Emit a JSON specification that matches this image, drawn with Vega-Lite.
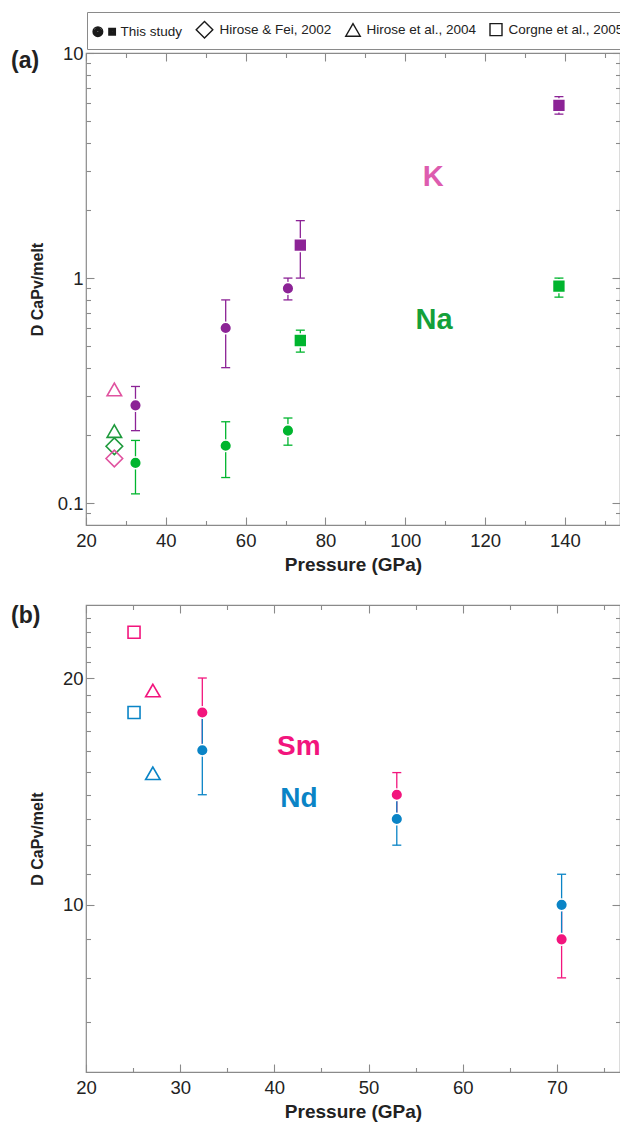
{
  "$schema": "https://vega.github.io/schema/vega-lite/v6.json",
  "background": "white",
  "padding": {"top": 11, "left": 10, "right": 0, "bottom": 0},
  "spacing": 28,
  "config": {
    "font": "Liberation Sans",
    "view": {"stroke": "#8a8a8a", "strokeWidth": 1.2},
    "axis": {
      "domain": false, "grid": false,
      "labelFont": "Liberation Sans", "labelFontSize": 18.5, "labelColor": "#222",
      "tickColor": "#8a8a8a", "tickWidth": 1.1,
      "titleFont": "Liberation Sans", "titleFontWeight": "bold", "titleColor": "#222",
      "labelFlush": false, "labelOverlap": false
    },
    "legend": {
      "labelFont": "Liberation Sans", "labelFontSize": 13.5, "labelColor": "#222",
      "strokeColor": "#8a8a8a", "fillColor": "white", "padding": 8,
      "symbolStrokeWidth": 1.4, "symbolStrokeColor": "#1a1a1a", "columnPadding": 10, "labelOffset": 5.5
    }
  },
  "datasets": {
    "pts": [
      {"panel": "a", "el": "K", "src": "This study", "exp": "circle", "P": 32.4, "D": 0.272, "lo": 0.21, "hi": 0.33},
      {"panel": "a", "el": "K", "src": "This study", "exp": "circle", "P": 55, "D": 0.6, "lo": 0.4, "hi": 0.8},
      {"panel": "a", "el": "K", "src": "This study", "exp": "circle", "P": 70.6, "D": 0.9, "lo": 0.8, "hi": 1.0},
      {"panel": "a", "el": "K", "src": "This study", "exp": "square", "P": 73.7, "D": 1.4, "lo": 1.0, "hi": 1.8},
      {"panel": "a", "el": "K", "src": "This study", "exp": "square", "P": 138.5, "D": 5.85, "lo": 5.35, "hi": 6.4},
      {"panel": "a", "el": "Na", "src": "This study", "exp": "circle", "P": 32.4, "D": 0.151, "lo": 0.11, "hi": 0.19},
      {"panel": "a", "el": "Na", "src": "This study", "exp": "circle", "P": 55, "D": 0.18, "lo": 0.13, "hi": 0.23},
      {"panel": "a", "el": "Na", "src": "This study", "exp": "circle", "P": 70.6, "D": 0.21, "lo": 0.181, "hi": 0.239},
      {"panel": "a", "el": "Na", "src": "This study", "exp": "square", "P": 73.7, "D": 0.528, "lo": 0.469, "hi": 0.587},
      {"panel": "a", "el": "Na", "src": "This study", "exp": "square", "P": 138.5, "D": 0.921, "lo": 0.823, "hi": 1.0},
      {"panel": "a", "el": "K", "src": "Hirose et al., 2004", "exp": "lit", "P": 27.1, "D": 0.32},
      {"panel": "a", "el": "Na", "src": "Hirose et al., 2004", "exp": "lit", "P": 27.1, "D": 0.209},
      {"panel": "a", "el": "Na", "src": "Hirose & Fei, 2002", "exp": "lit", "P": 27.1, "D": 0.179},
      {"panel": "a", "el": "K", "src": "Hirose & Fei, 2002", "exp": "lit", "P": 27.1, "D": 0.158},
      {"panel": "b", "el": "Sm", "src": "This study", "exp": "circle", "P": 32.35, "D": 18.0, "lo": 16.0, "hi": 20.0},
      {"panel": "b", "el": "Sm", "src": "This study", "exp": "circle", "P": 53.0, "D": 14.0, "lo": 13.05, "hi": 14.98},
      {"panel": "b", "el": "Sm", "src": "This study", "exp": "circle", "P": 70.5, "D": 9.0, "lo": 8.0, "hi": 10.0},
      {"panel": "b", "el": "Nd", "src": "This study", "exp": "circle", "P": 32.35, "D": 16.04, "lo": 14.0, "hi": 18.0},
      {"panel": "b", "el": "Nd", "src": "This study", "exp": "circle", "P": 53.0, "D": 13.0, "lo": 12.0, "hi": 14.0},
      {"panel": "b", "el": "Nd", "src": "This study", "exp": "circle", "P": 70.5, "D": 10.0, "lo": 9.0, "hi": 10.98},
      {"panel": "b", "el": "Sm", "src": "Corgne et al., 2005", "exp": "lit", "P": 25.1, "D": 23.0},
      {"panel": "b", "el": "Nd", "src": "Corgne et al., 2005", "exp": "lit", "P": 25.1, "D": 18.0},
      {"panel": "b", "el": "Sm", "src": "Hirose et al., 2004", "exp": "lit", "P": 27.1, "D": 19.25},
      {"panel": "b", "el": "Nd", "src": "Hirose et al., 2004", "exp": "lit", "P": 27.1, "D": 14.95}
    ],
    "lbls": [
      {"panel": "a", "lbl": "K", "P": 107, "D": 2.81},
      {"panel": "a", "lbl": "Na", "P": 107.2, "D": 0.65},
      {"panel": "b", "lbl": "Sm", "P": 42.6, "D": 16.2},
      {"panel": "b", "lbl": "Nd", "P": 42.6, "D": 13.8}
    ]
  },
  "vconcat": [
    {
      "width": 534, "height": 472,
      "title": {"text": "(a)", "anchor": "start", "frame": "group", "orient": "top", "offset": 4, "dx": -75, "dy": 33, "fontSize": 23, "fontWeight": "bold", "font": "Liberation Sans", "color": "#222"},
      "layer": [
        {
          "data": {"name": "pts"},
          "transform": [{"filter": "datum.panel == 'a' && datum.src == 'This study'"}],
          "mark": {"type": "rule", "strokeWidth": 1.3},
          "encoding": {
            "x": {"field": "P", "type": "quantitative", "scale": {"domain": [20, 153.8], "nice": false, "zero": false},
              "axis": {"orient": "bottom", "values": [20,30,40,50,60,70,80,90,100,110,120,130,140,150], "format": "d",
                "labelExpr": "datum.value % 20 == 0 ? datum.label : ''",
                "tickSize": {"condition": {"test": "datum.value % 20 == 0", "value": -8}, "value": -4.5},
                "labelPadding": 14, "title": "Pressure (GPa)", "titleFontSize": 19, "titlePadding": 2}},
            "y": {"field": "lo", "type": "quantitative", "scale": {"type": "log", "domain": [0.08, 10], "nice": false},
              "axis": {"orient": "left", "values": [0.09,0.1,0.2,0.3,0.4,0.5,0.6,0.7,0.8,0.9,1,2,3,4,5,6,7,8,9,10],
                "labelExpr": "datum.value == 0.1 || datum.value == 1 || datum.value == 10 ? format(datum.value, '~g') : ''",
                "tickSize": {"condition": {"test": "datum.value == 0.1 || datum.value == 1 || datum.value == 10", "value": -8}, "value": -4.5},
                "labelPadding": 11, "title": "D CaPv/melt", "titleFontSize": 16, "titlePadding": 12}},
            "y2": {"field": "hi"},
            "color": {"field": "el", "type": "nominal", "scale": {"domain": ["K","Na","Sm","Nd"], "range": ["#8c2396","#00b52e","#f2157d","#0a84c6"]}, "legend": null}
          }
        },
        {
          "data": {"name": "pts"},
          "transform": [{"filter": "datum.panel == 'a' && datum.src == 'This study'"}],
          "mark": {"type": "tick", "orient": "horizontal", "size": 9, "thickness": 1.3, "opacity": 1},
          "encoding": {
            "x": {"field": "P", "type": "quantitative", "axis": null},
            "y": {"field": "lo", "type": "quantitative", "axis": null},
            "color": {"field": "el", "type": "nominal", "legend": null}
          }
        },
        {
          "data": {"name": "pts"},
          "transform": [{"filter": "datum.panel == 'a' && datum.src == 'This study'"}],
          "mark": {"type": "tick", "orient": "horizontal", "size": 9, "thickness": 1.3, "opacity": 1},
          "encoding": {
            "x": {"field": "P", "type": "quantitative", "axis": null},
            "y": {"field": "hi", "type": "quantitative", "axis": null},
            "color": {"field": "el", "type": "nominal", "legend": null}
          }
        },
        {
          "data": {"name": "pts"},
          "transform": [{"filter": "datum.panel == 'a' && datum.exp == 'circle'"}],
          "mark": {"type": "point", "shape": "circle", "filled": true, "size": 135, "stroke": "white", "strokeWidth": 1.5, "opacity": 1},
          "encoding": {
            "x": {"field": "P", "type": "quantitative", "axis": null},
            "y": {"field": "D", "type": "quantitative", "axis": null},
            "color": {"field": "el", "type": "nominal", "legend": null}
          }
        },
        {
          "data": {"name": "pts"},
          "transform": [{"filter": "datum.panel == 'a' && datum.exp == 'square'"}],
          "mark": {"type": "point", "shape": "square", "filled": true, "size": 165, "stroke": "white", "strokeWidth": 1.5, "opacity": 1},
          "encoding": {
            "x": {"field": "P", "type": "quantitative", "axis": null},
            "y": {"field": "D", "type": "quantitative", "axis": null},
            "color": {"field": "el", "type": "nominal", "legend": null}
          }
        },
        {
          "data": {"name": "pts"},
          "transform": [{"filter": "datum.panel == 'a' && datum.exp == 'lit'"}],
          "mark": {"type": "point", "filled": false, "strokeWidth": 1.6, "opacity": 1},
          "encoding": {
            "x": {"field": "P", "type": "quantitative", "axis": null},
            "y": {"field": "D", "type": "quantitative", "axis": null},
            "stroke": {"field": "el", "type": "nominal", "scale": {"domain": ["K","Na","Sm","Nd"], "range": ["#e0529f","#1e9a3c","#f2157d","#0a84c6"]}, "legend": null},
            "size": {"field": "src", "type": "nominal",
              "scale": {"domain": ["This study","Hirose & Fei, 2002","Hirose et al., 2004","Corgne et al., 2005"], "range": [342, 144]},
              "legend": {"orient": "none", "legendX": 1, "legendY": -41, "direction": "horizontal", "title": null}},
            "shape": {"field": "src", "type": "nominal",
              "scale": {"domain": ["This study","Hirose & Fei, 2002","Hirose et al., 2004","Corgne et al., 2005"],
                        "range": ["M-1.29,0A0.52,0.52,0,1,0,-0.25,0A0.52,0.52,0,1,0,-1.29,0ZM-1.16,0A0.39,0.39,0,1,0,-0.38,0A0.39,0.39,0,1,0,-1.16,0ZM-1.03,0A0.26,0.26,0,1,0,-0.51,0A0.26,0.26,0,1,0,-1.03,0ZM-0.9,0A0.13,0.13,0,1,0,-0.64,0A0.13,0.13,0,1,0,-0.9,0ZM-0.8,0A0.03,0.03,0,1,0,-0.74,0A0.03,0.03,0,1,0,-0.8,0ZM0.42,-0.35H1.12V0.35H0.42ZM0.55,-0.22H0.99V0.22H0.55ZM0.68,-0.09H0.86V0.09H0.68Z","diamond","triangle-up","square"]},
              "legend": {"orient": "none", "legendX": 1, "legendY": -41, "direction": "horizontal", "title": null}}
          }
        },
        {
          "data": {"name": "lbls"},
          "transform": [{"filter": "datum.panel == 'a'"}],
          "mark": {"type": "text", "fontSize": 29, "fontWeight": "bold", "font": "Liberation Sans"},
          "encoding": {
            "x": {"field": "P", "type": "quantitative",
              "axis": {"orient": "top", "values": [20,30,40,50,60,70,80,90,100,110,120,130,140,150], "labels": false, "title": null, "minExtent": 0, "maxExtent": 0,
                "tickSize": {"condition": {"test": "datum.value % 20 == 0", "value": -8}, "value": -4.5}}},
            "y": {"field": "D", "type": "quantitative",
              "axis": {"orient": "right", "values": [0.09,0.1,0.2,0.3,0.4,0.5,0.6,0.7,0.8,0.9,1,2,3,4,5,6,7,8,9,10], "labels": false, "title": null, "minExtent": 0, "maxExtent": 0,
                "tickSize": {"condition": {"test": "datum.value == 0.1 || datum.value == 1 || datum.value == 10", "value": -8}, "value": -4.5}}},
            "text": {"field": "lbl"},
            "fill": {"field": "lbl", "type": "nominal", "scale": {"domain": ["K","Na","Sm","Nd"], "range": ["#dd5caf","#14a03a","#f2157d","#0a84c6"]}, "legend": null}
          }
        }
      ],
      "resolve": {"axis": {"x": "independent", "y": "independent"}}
    },
    {
      "width": 534, "height": 467,
      "title": {"text": "(b)", "anchor": "start", "frame": "group", "orient": "top", "offset": 4, "dx": -75, "dy": 28, "fontSize": 23, "fontWeight": "bold", "font": "Liberation Sans", "color": "#222"},
      "layer": [
        {
          "data": {"name": "pts"},
          "transform": [{"filter": "datum.panel == 'b' && datum.src == 'This study'"}],
          "mark": {"type": "rule", "strokeWidth": 1.3},
          "encoding": {
            "x": {"field": "P", "type": "quantitative", "scale": {"domain": [20, 76.7], "nice": false, "zero": false},
              "axis": {"orient": "bottom", "values": [20,25,30,35,40,45,50,55,60,65,70,75], "format": "d",
                "labelExpr": "datum.value % 10 == 0 ? datum.label : ''",
                "tickSize": {"condition": {"test": "datum.value % 10 == 0", "value": -8}, "value": -4.5},
                "labelPadding": 14, "title": "Pressure (GPa)", "titleFontSize": 19, "titlePadding": 2}},
            "y": {"field": "lo", "type": "quantitative", "scale": {"type": "log", "domain": [6, 25], "nice": false},
              "axis": {"orient": "left", "values": [7,8,9,10,11,12,13,14,15,16,17,18,19,20,21,22,23,24],
                "labelExpr": "datum.value == 10 || datum.value == 20 ? format(datum.value, '~g') : ''",
                "tickSize": {"condition": {"test": "datum.value == 10 || datum.value == 20", "value": -8}, "value": -4.5},
                "labelPadding": 11, "title": "D CaPv/melt", "titleFontSize": 16, "titlePadding": 17}},
            "y2": {"field": "hi"},
            "color": {"field": "el", "type": "nominal", "scale": {"domain": ["K","Na","Sm","Nd"], "range": ["#8c2396","#00b52e","#f2157d","#0a84c6"]}, "legend": null}
          }
        },
        {
          "data": {"name": "pts"},
          "transform": [{"filter": "datum.panel == 'b' && datum.src == 'This study'"}],
          "mark": {"type": "tick", "orient": "horizontal", "size": 9, "thickness": 1.3, "opacity": 1},
          "encoding": {
            "x": {"field": "P", "type": "quantitative", "axis": null},
            "y": {"field": "lo", "type": "quantitative", "axis": null},
            "color": {"field": "el", "type": "nominal", "legend": null}
          }
        },
        {
          "data": {"name": "pts"},
          "transform": [{"filter": "datum.panel == 'b' && datum.src == 'This study'"}],
          "mark": {"type": "tick", "orient": "horizontal", "size": 9, "thickness": 1.3, "opacity": 1},
          "encoding": {
            "x": {"field": "P", "type": "quantitative", "axis": null},
            "y": {"field": "hi", "type": "quantitative", "axis": null},
            "color": {"field": "el", "type": "nominal", "legend": null}
          }
        },
        {
          "data": {"name": "pts"},
          "transform": [{"filter": "datum.panel == 'b' && datum.exp == 'circle'"}],
          "mark": {"type": "point", "shape": "circle", "filled": true, "size": 135, "stroke": "white", "strokeWidth": 1.5, "opacity": 1},
          "encoding": {
            "x": {"field": "P", "type": "quantitative", "axis": null},
            "y": {"field": "D", "type": "quantitative", "axis": null},
            "color": {"field": "el", "type": "nominal", "legend": null}
          }
        },
        {
          "data": {"name": "pts"},
          "transform": [{"filter": "datum.panel == 'b' && datum.exp == 'lit'"}],
          "mark": {"type": "point", "filled": false, "strokeWidth": 1.6, "opacity": 1},
          "encoding": {
            "x": {"field": "P", "type": "quantitative", "axis": null},
            "y": {"field": "D", "type": "quantitative", "axis": null},
            "stroke": {"field": "el", "type": "nominal", "scale": {"domain": ["K","Na","Sm","Nd"], "range": ["#e0529f","#1e9a3c","#f2157d","#0a84c6"]}, "legend": null},
            "size": {"field": "src", "type": "nominal", "legend": null},
            "shape": {"field": "src", "type": "nominal", "legend": null}
          }
        },
        {
          "data": {"name": "lbls"},
          "transform": [{"filter": "datum.panel == 'b'"}],
          "mark": {"type": "text", "fontSize": 28, "fontWeight": "bold", "font": "Liberation Sans"},
          "encoding": {
            "x": {"field": "P", "type": "quantitative",
              "axis": {"orient": "top", "values": [20,25,30,35,40,45,50,55,60,65,70,75], "labels": false, "title": null, "minExtent": 0, "maxExtent": 0,
                "tickSize": {"condition": {"test": "datum.value % 10 == 0", "value": -8}, "value": -4.5}}},
            "y": {"field": "D", "type": "quantitative",
              "axis": {"orient": "right", "values": [7,8,9,10,11,12,13,14,15,16,17,18,19,20,21,22,23,24], "labels": false, "title": null, "minExtent": 0, "maxExtent": 0,
                "tickSize": {"condition": {"test": "datum.value == 10 || datum.value == 20", "value": -8}, "value": -4.5}}},
            "text": {"field": "lbl"},
            "fill": {"field": "lbl", "type": "nominal", "scale": {"domain": ["K","Na","Sm","Nd"], "range": ["#dd5caf","#14a03a","#f2157d","#0a84c6"]}, "legend": null}
          }
        }
      ],
      "resolve": {"axis": {"x": "independent", "y": "independent"}}
    }
  ]
}
